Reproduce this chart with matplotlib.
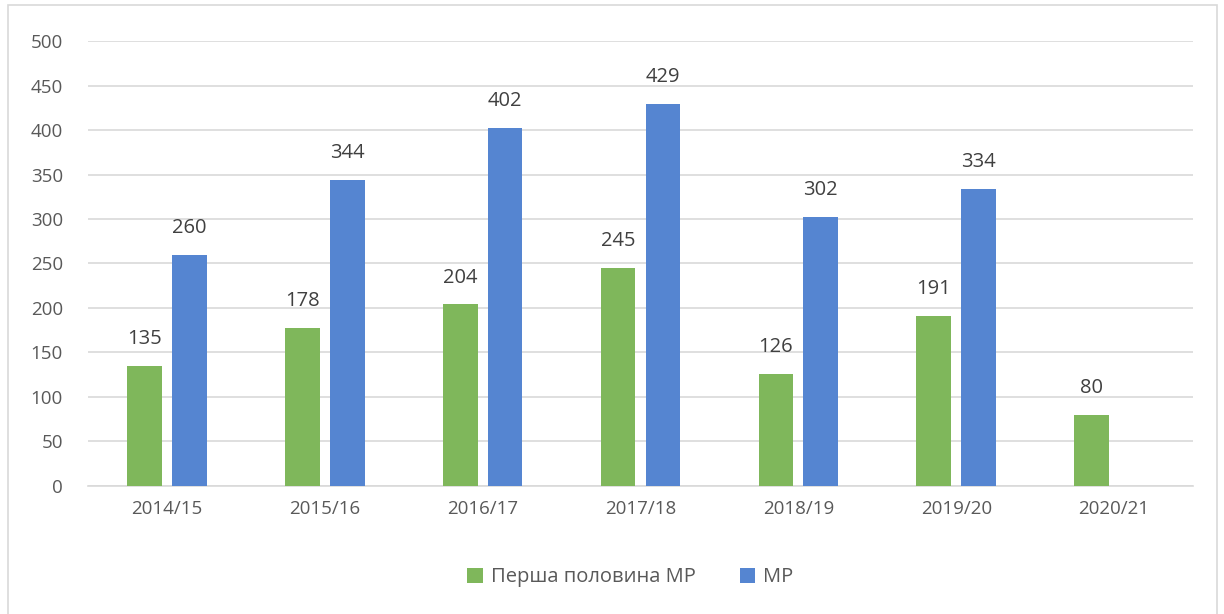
import numpy as np
import matplotlib.pyplot as plt
from matplotlib.patches import Rectangle

# дані
seasons = ['2014/15', '2015/16', '2016/17', '2017/18', '2018/19', '2019/20', '2020/21']
first_half = [135, 178, 204, 245, 126, 191, 80]
full_mr = [260, 344, 402, 429, 302, 334, None]

plt.rcParams['font.family'] = ['Open Sans', 'DejaVu Sans']

fig = plt.figure(figsize=(12.24, 6.14), dpi=100)
ax = fig.add_axes([0.0719, 0.2085, 0.9028, 0.7247])

x = np.arange(len(seasons))
w = 0.22
off = 0.142
green = '#7FB75B'
blue = '#5585D1'

g_vals = np.array(first_half, dtype=float)
b_vals = np.array([np.nan if v is None else v for v in full_mr], dtype=float)

bg = ax.bar(x - off, g_vals, w, color=green, label='Перша половина МР', zorder=3)
bb = ax.bar(x + off, b_vals, w, color=blue, label='МР', zorder=3)

for xi, v in zip(x, g_vals):
    ax.text(xi - off, v + 19, f'{int(v)}', ha='center', va='bottom', fontsize=14.5, color='#404040')
for xi, v in zip(x, b_vals):
    if not np.isnan(v):
        ax.text(xi + off, v + 19, f'{int(v)}', ha='center', va='bottom', fontsize=14.5, color='#404040')

ax.set_xlim(-0.5, len(seasons) - 0.5)
ax.set_ylim(0, 500)
ax.set_yticks(np.arange(0, 501, 50))
ax.set_xticks(x)
ax.set_xticklabels(seasons)
ax.tick_params(axis='both', length=0, labelsize=13.5, colors='#595959')
ax.tick_params(axis='y', pad=18)
ax.tick_params(axis='x', pad=10)
ax.grid(axis='y', color='#D9D9D9', linewidth=1.2, zorder=0)
for s in ['top', 'right', 'left']:
    ax.spines[s].set_visible(False)
ax.spines['bottom'].set_color('#D9D9D9')
ax.spines['bottom'].set_linewidth(1.2)

leg = fig.legend(handles=[bg, bb], loc='center', bbox_to_anchor=(0.515, 0.06), ncol=2,
                 frameon=False, fontsize=14.5, handlelength=0.75, handleheight=0.75,
                 columnspacing=2.2, handletextpad=0.4)
for t in leg.get_texts():
    t.set_color('#595959')

fig.patches.append(Rectangle((8 / 1224, -0.01), 1209 / 1224, 1 - 5 / 614 + 0.01,
                             transform=fig.transFigure, fill=False,
                             edgecolor='#D9D9D9', linewidth=1.2))

fig.savefig('out.png', dpi=100)
